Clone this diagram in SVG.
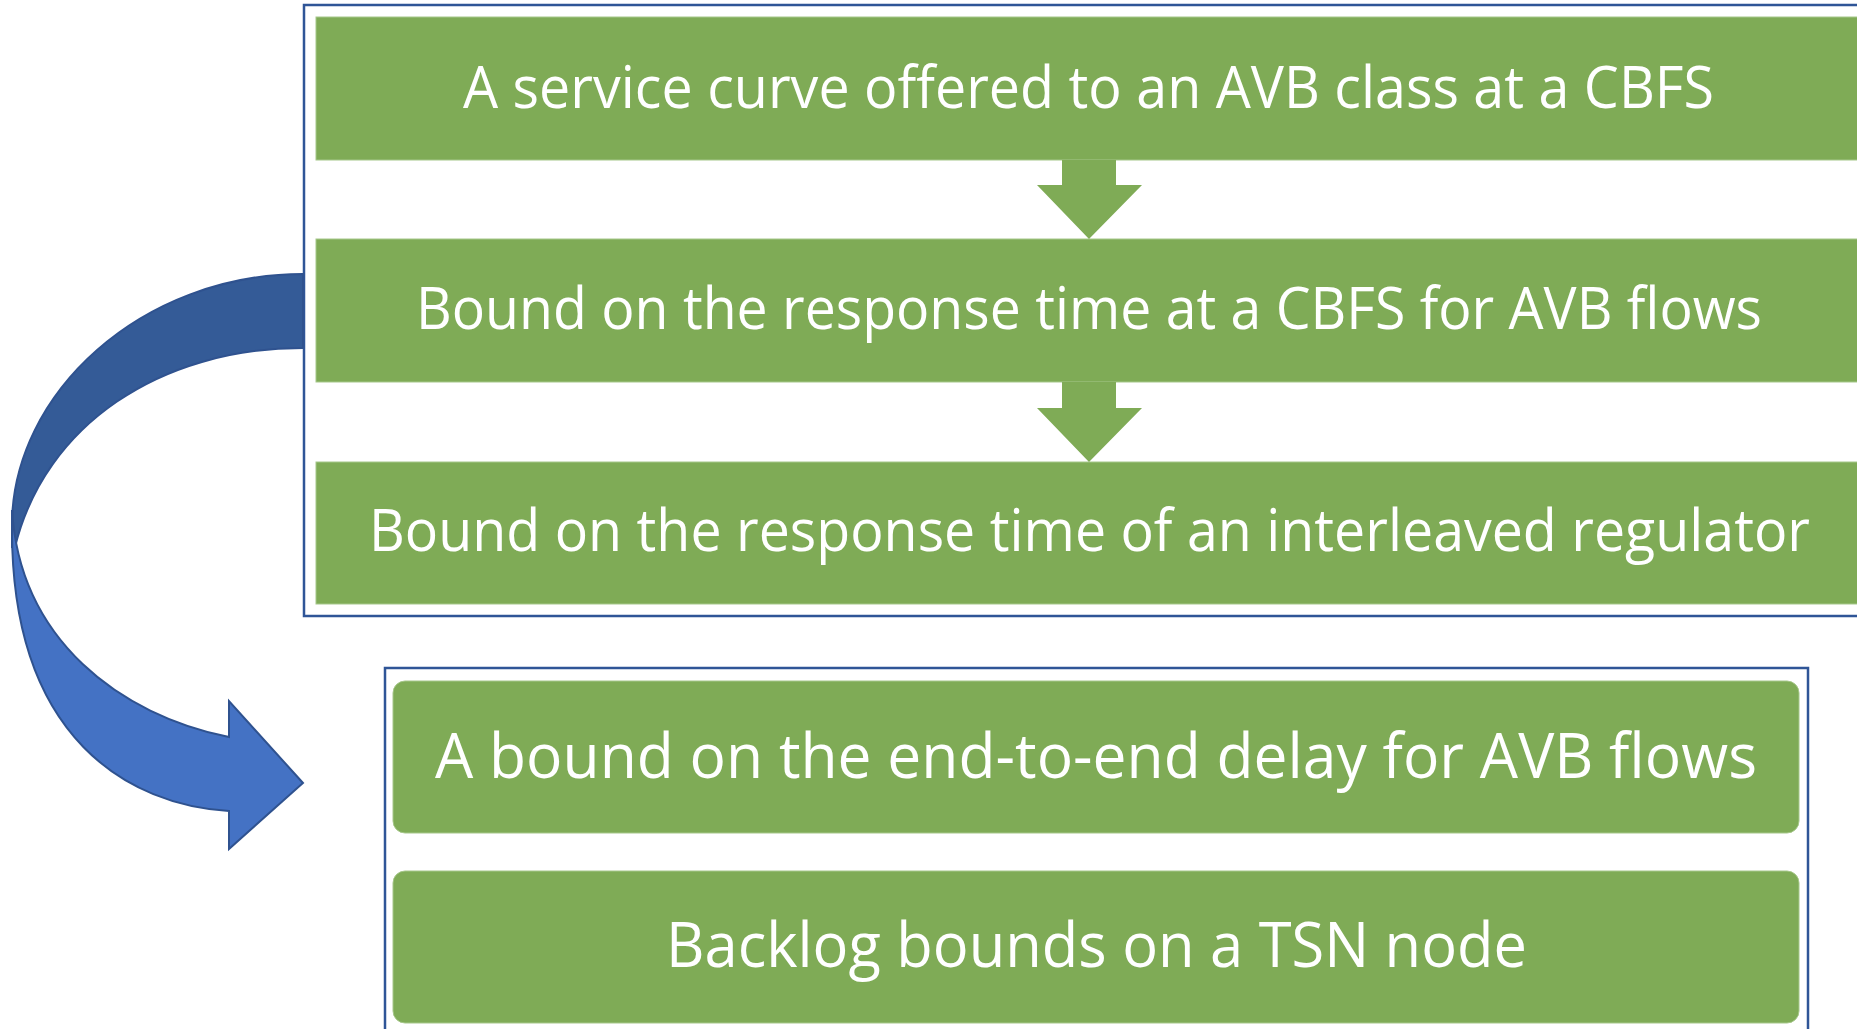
<svg xmlns="http://www.w3.org/2000/svg" width="1857" height="1029" viewBox="0 0 1857 1029">
<style>
.frame{fill:#ffffff;stroke:#2F5597;stroke-width:2.5}
.box{fill:#7FAB56;stroke:#A6C78A;stroke-width:1}
.lbl{font-family:"Open Sans","Liberation Sans",sans-serif;fill:#ffffff}
.up{font-size:59px}
.low{font-size:63px}
.garrow{fill:#7FAB56}
.dark{fill:#345B97;stroke:#2F528F;stroke-width:2}
.light{fill:#4472C4;stroke:#2F528F;stroke-width:2}
</style>
<rect width="1857" height="1029" fill="#ffffff"/>
<g id="group-top">
<rect class="frame" x="304" y="5" width="1580" height="611"/>
</g>
<g id="group-bottom">
<rect class="frame" x="385" y="668" width="1423" height="420"/>
</g>
<g id="node1">
<rect class="box" x="316" y="17" width="1560" height="143"/>
<text class="lbl up" x="463" y="108" textLength="1251" lengthAdjust="spacingAndGlyphs">A service curve offered to an AVB class at a CBFS</text>
</g>
<g id="node2">
<rect class="box" x="316" y="239" width="1560" height="143"/>
<text class="lbl up" x="416" y="329" textLength="1346" lengthAdjust="spacingAndGlyphs">Bound on the response time at a CBFS for AVB flows</text>
</g>
<g id="node3">
<rect class="box" x="316" y="462" width="1560" height="142"/>
<text class="lbl up" x="369" y="551" textLength="1441" lengthAdjust="spacingAndGlyphs">Bound on the response time of an interleaved regulator</text>
</g>
<g id="node4">
<rect class="box" x="393" y="681" width="1406" height="152" rx="12"/>
<text class="lbl low" x="435" y="778" textLength="1322" lengthAdjust="spacingAndGlyphs">A bound on the end-to-end delay for AVB flows</text>
</g>
<g id="node5">
<rect class="box" x="393" y="871" width="1406" height="152" rx="12"/>
<text class="lbl low" x="666" y="967" textLength="861" lengthAdjust="spacingAndGlyphs">Backlog bounds on a TSN node</text>
</g>
<g id="connectors">
<polygon class="garrow" points="1062,160 1116,160 1116,185 1142,185 1089,239 1037,185 1062,185"/>
<polygon class="garrow" points="1062,382 1116,382 1116,408 1142,408 1089,462 1037,408 1062,408"/>
<path class="dark" d="M303,274 C142,274 12,393 12,525 L12,547 L15,547 C45,425 160,348 303,348 Z"/>
<path class="light" d="M12,510 L12,530 C12,740 130,805 229,811 L229,849 L303,783 L229,701 L229,737 C120,715 20,640 12,510 Z"/>
</g>
</svg>
